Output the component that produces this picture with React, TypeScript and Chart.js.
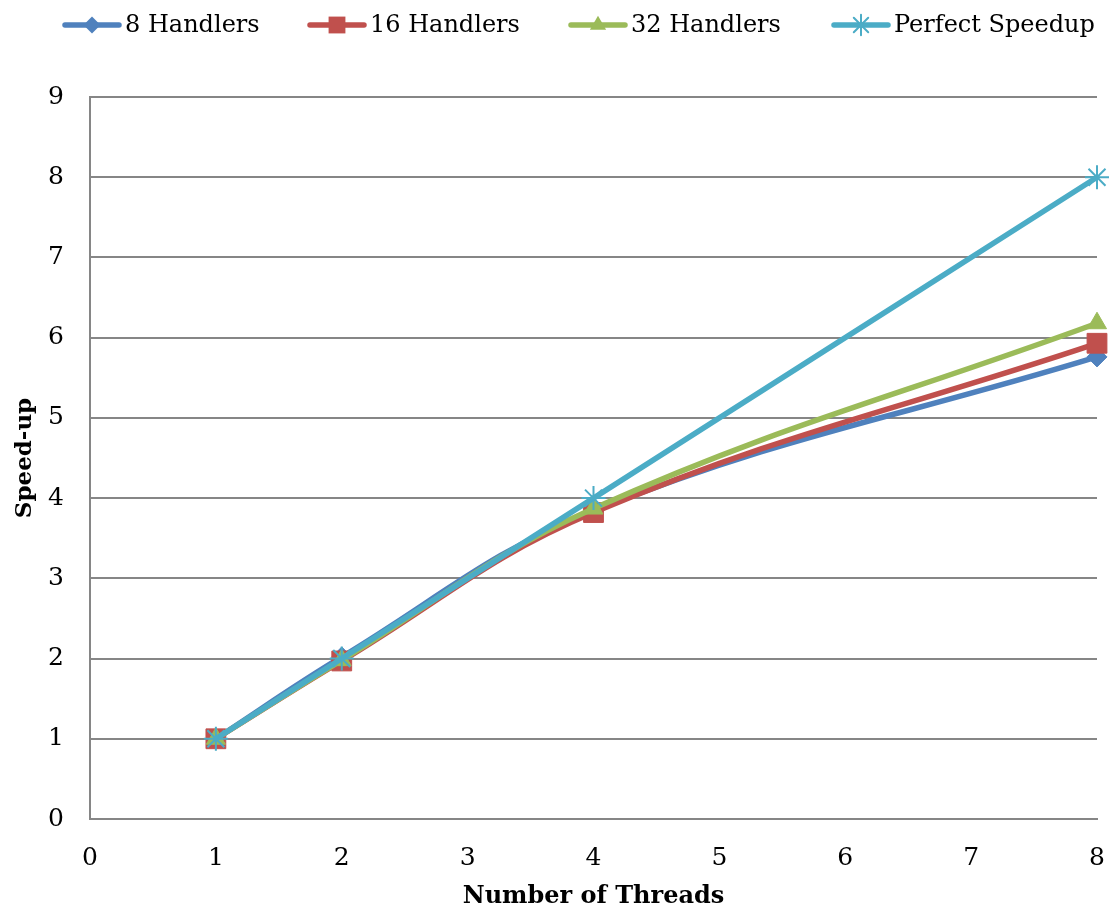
import React, { useEffect, useRef } from "react";
import { Chart, registerables } from "chart.js";

Chart.register(...registerables);

const threads = [1, 2, 4, 8];
const handlers8 = [1, 2.02, 3.84, 5.76];
const handlers16 = [1, 1.97, 3.82, 5.93];
const handlers32 = [1, 1.98, 3.87, 6.18];
const perfect = [1, 2, 4, 8];
const seriesNames = ["8 Handlers", "16 Handlers", "32 Handlers", "Perfect Speedup"];
const seriesColors = ["#4F81BD", "#C0504D", "#9BBB59", "#4BACC6"];
const xTitle = "Number of Threads";
const yTitle = "Speed-up";

const FONT = "'DejaVu Serif', serif";

function drawMarker(ctx: CanvasRenderingContext2D, style: string, x: number, y: number, r: number, color: string) {
  ctx.save();
  ctx.fillStyle = color;
  ctx.strokeStyle = color;
  ctx.beginPath();
  if (style === "rectRot") {
    ctx.moveTo(x, y - r);
    ctx.lineTo(x + r, y);
    ctx.lineTo(x, y + r);
    ctx.lineTo(x - r, y);
    ctx.closePath();
    ctx.fill();
  } else if (style === "rect") {
    const s = r * Math.SQRT1_2;
    ctx.rect(x - s, y - s, 2 * s, 2 * s);
    ctx.fill();
  } else if (style === "triangle") {
    ctx.moveTo(x, y - r);
    ctx.lineTo(x + r * Math.sin(Math.PI * 2 / 3), y - r * Math.cos(Math.PI * 2 / 3));
    ctx.lineTo(x - r * Math.sin(Math.PI * 2 / 3), y - r * Math.cos(Math.PI * 2 / 3));
    ctx.closePath();
    ctx.fill();
  } else {
    ctx.lineWidth = 2;
    for (let i = 0; i < 4; i++) {
      const a = (i * Math.PI) / 4;
      ctx.moveTo(x - r * Math.cos(a), y - r * Math.sin(a));
      ctx.lineTo(x + r * Math.cos(a), y + r * Math.sin(a));
    }
    ctx.stroke();
  }
  ctx.restore();
}

const pointStyles = ["rectRot", "rect", "triangle", "star"];
const pointRadii = [10, 14, 11, 12];
const legendStarts = [65, 310, 571, 834];

const overlayPlugin = {
  id: "overlay",
  afterDraw(chart: any) {
    const ctx = chart.ctx as CanvasRenderingContext2D;
    const area = chart.chartArea;
    ctx.save();
    const ly = 25;
    seriesNames.forEach((name, i) => {
      const x0 = legendStarts[i];
      ctx.strokeStyle = seriesColors[i];
      ctx.lineWidth = 5.5;
      ctx.lineCap = "round";
      ctx.beginPath();
      ctx.moveTo(x0, ly);
      ctx.lineTo(x0 + 54, ly);
      ctx.stroke();
      drawMarker(ctx, pointStyles[i], x0 + 27, ly, pointRadii[i] * 0.85, seriesColors[i]);
      ctx.fillStyle = "#000";
      ctx.font = `24px ${FONT}`;
      ctx.textBaseline = "middle";
      ctx.textAlign = "left";
      ctx.fillText(name, x0 + 60, ly + 1);
    });
    ctx.font = `bold 24px ${FONT}`;
    ctx.fillStyle = "#000";
    ctx.textAlign = "center";
    ctx.textBaseline = "middle";
    ctx.fillText(xTitle, (area.left + area.right) / 2, 897);
    ctx.font = `bold 23px ${FONT}`;
    ctx.translate(25, (area.top + area.bottom) / 2);
    ctx.rotate(-Math.PI / 2);
    ctx.fillText(yTitle, 0, 0);
    ctx.restore();
  },
};

export default function App() {
  const ref = useRef<HTMLCanvasElement | null>(null);
  useEffect(() => {
    document.body.style.margin = "0";
    const all = [handlers8, handlers16, handlers32, perfect];
    const chart = new Chart(ref.current!, {
      type: "line",
      data: {
        datasets: all.map((vals, i) => ({
          label: seriesNames[i],
          data: threads.map((t, j) => ({ x: t, y: vals[j] })),
          borderColor: seriesColors[i],
          backgroundColor: seriesColors[i],
          borderWidth: 5.5,
          tension: 0.4,
          pointStyle: pointStyles[i] as any,
          pointRadius: pointRadii[i],
          pointBorderWidth: i === 3 ? 2 : 1,
          pointBorderColor: seriesColors[i],
          pointBackgroundColor: seriesColors[i],
          order: 4 - i,
          clip: false as any,
        })),
      },
      options: {
        animation: false,
        responsive: false,
        layout: { autoPadding: false, padding: { top: 97, right: 12, left: 0, bottom: 0 } },
        plugins: { legend: { display: false }, tooltip: { enabled: false } },
        scales: {
          x: {
            type: "linear",
            min: 0,
            max: 8,
            ticks: { stepSize: 1, padding: 0, color: "#000", font: { family: FONT, size: 25 } },
            grid: { color: "rgba(0,0,0,0)", drawTicks: true, tickLength: 24, tickColor: "rgba(0,0,0,0)" },
            border: { display: true, color: "#868686", width: 2 },
            afterFit: (s: any) => { s.height = 92; s.paddingRight = 0; s.paddingLeft = 0; },
          },
          y: {
            min: 0,
            max: 9,
            ticks: { stepSize: 1, padding: 26, color: "#000", font: { family: FONT, size: 25 } },
            grid: { color: "#868686", lineWidth: 2, drawTicks: false, tickLength: 0 },
            border: { display: true, color: "#868686", width: 2 },
            afterFit: (s: any) => { s.width = 90; s.paddingTop = 0; s.paddingBottom = 0; },
          },
        },
      },
      plugins: [overlayPlugin],
    });
    return () => chart.destroy();
  }, []);
  return (
    <div style={{ width: 1109, height: 911 }}>
      <canvas ref={ref} width={1109} height={911} style={{ display: "block" }} />
    </div>
  );
}
